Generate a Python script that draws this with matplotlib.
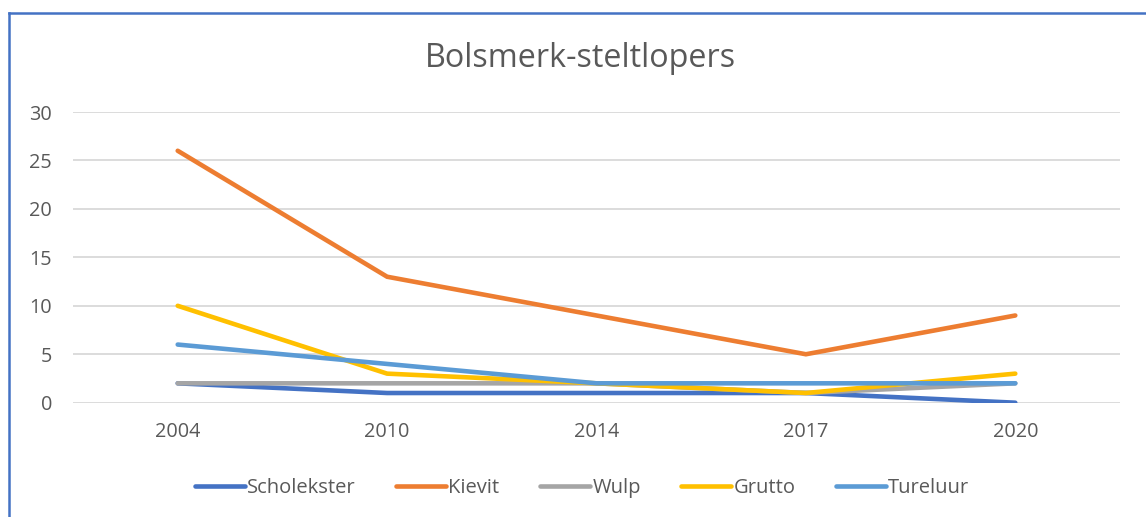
import matplotlib.pyplot as plt
from matplotlib.lines import Line2D

plt.rcParams['font.family'] = ['Open Sans', 'DejaVu Sans']

# data
years = ["2004", "2010", "2014", "2017", "2020"]
scholekster = [2, 1, 1, 1, 0]
kievit = [26, 13, 9, 5, 9]
wulp = [2, 2, 2, 1, 2]
grutto = [10, 3, 2, 1, 3]
tureluur = [6, 4, 2, 2, 2]

series = [
    ("Scholekster", scholekster, "#4472C4"),
    ("Kievit", kievit, "#ED7D31"),
    ("Wulp", wulp, "#A5A5A5"),
    ("Grutto", grutto, "#FFC000"),
    ("Tureluur", tureluur, "#5B9BD5"),
]

W, H = 1146, 517
fig = plt.figure(figsize=(W / 100, H / 100), dpi=100)
ax = fig.add_axes([73 / W, 1 - 402.7 / H, 1047 / W, (402.7 - 112) / H])

x = range(len(years))
for name, vals, col in series:
    ax.plot(x, vals, color=col, lw=3.3, label=name,
            solid_capstyle="round", solid_joinstyle="miter")

ax.set_xlim(-0.5, len(years) - 0.5)
ax.set_ylim(0, 30)
ax.set_yticks(range(0, 31, 5))
ax.set_xticks(list(x))
ax.set_xticklabels(years)
ax.grid(axis="y", color="#D9D9D9", lw=1.3)
ax.set_axisbelow(True)
for s in ax.spines.values():
    s.set_visible(False)
ax.tick_params(length=0, labelsize=14.3, labelcolor="#595959")
ax.tick_params(axis="y", pad=15)
ax.tick_params(axis="x", pad=14)

fig.text(580 / W, 1 - 58 / H, "Bolsmerk-steltlopers", ha="center", va="center",
         fontsize=23.3, color="#595959")

ax.legend(loc="center", bbox_to_anchor=(582 / W, 1 - 488 / H),
          bbox_transform=fig.transFigure, ncol=5, frameon=False,
          fontsize=14.5, labelcolor="#595959", handlelength=2.5,
          handletextpad=0.1, columnspacing=2.0)

# chart frame (partially visible)
fig.add_artist(Line2D([9 / W, 1], [1 - 13 / H, 1 - 13 / H], color="#4472C4",
                      lw=1.8, transform=fig.transFigure))
fig.add_artist(Line2D([9 / W, 9 / W], [0, 1 - 13 / H], color="#4472C4",
                      lw=1.8, transform=fig.transFigure))

fig.savefig("out.png", dpi=100)
